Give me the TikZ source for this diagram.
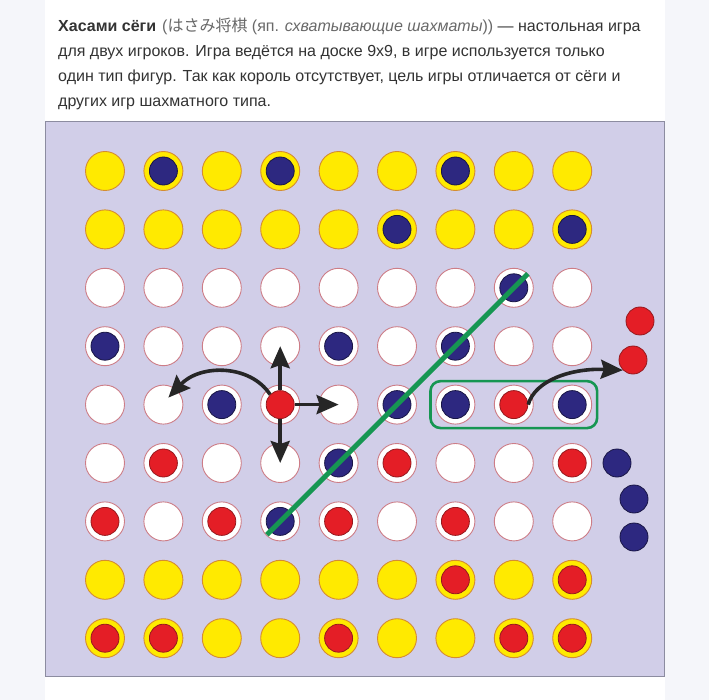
\documentclass[tikz,border=0pt]{standalone}
\usepackage{fontspec}
\setmainfont{Liberation Sans}
\newfontfamily\jpfont{Noto Sans CJK JP}
\usetikzlibrary{arrows.meta,calc,fit}
\definecolor{pagebg}{RGB}{245,246,250}
\definecolor{board}{RGB}{209,206,232}
\definecolor{boardline}{RGB}{140,140,160}
\definecolor{yel}{RGB}{255,234,0}
\definecolor{yelline}{RGB}{212,140,50}
\definecolor{ringline}{RGB}{205,125,135}
\definecolor{navy}{RGB}{45,40,128}
\definecolor{navyline}{RGB}{25,22,70}
\definecolor{redp}{RGB}{228,30,38}
\definecolor{redline}{RGB}{150,25,30}
\definecolor{grn}{RGB}{22,150,82}
\definecolor{txt}{RGB}{51,51,51}
\definecolor{txtgray}{RGB}{105,105,105}

\begin{document}
\begin{tikzpicture}[x=1pt,y=-1pt,
  txtline/.style={anchor=base west,inner sep=0pt,text=txt,font=\fontsize{16}{20}\selectfont},
  cellY/.style={circle,draw=yelline,fill=yel,line width=0.9pt,minimum size=39pt,inner sep=0pt},
  cellW/.style={circle,draw=ringline,fill=white,line width=0.9pt,minimum size=39pt,inner sep=0pt},
  pieceb/.style={circle,draw=navyline,fill=navy,line width=0.8pt,minimum size=28pt,inner sep=0pt},
  piecer/.style={circle,draw=redline,fill=redp,line width=0.8pt,minimum size=28pt,inner sep=0pt},
  hop/.style={draw=black!85,line width=3.6pt,-{Stealth[length=22pt,width=19pt,inset=3pt]}}]
\useasboundingbox (0,0) rectangle (709,700);
\fill[pagebg] (0,0) rectangle (709,700);
\fill[white] (45,0) rectangle (665,700);

\node[txtline] (txt-1) at (58,32) {\textbf{Хасами сёги}\hspace{6pt}{\color{txtgray}({\jpfont はさみ将棋} (яп. \textit{схватывающие шахматы}))} — настольная игра};
\node[txtline] (txt-2) at (58,57) {для двух игроков. Игра ведётся на доске 9x9, в игре используется только};
\node[txtline] (txt-3) at (58,82) {один тип фигур. Так как король отсутствует, цель игры отличается от сёги и};
\node[txtline] (txt-4) at (58,107) {других игр шахматного типа.};

\draw[boardline,fill=board,line width=0.8pt] (45,121) rectangle (664,676);

\foreach \r/\k in {1/Y,2/Y,3/W,4/W,5/W,6/W,7/W,8/Y,9/Y}
  \foreach \c in {1,...,9}
    \node[cell\k] (c-\r-\c) at ({105+(\c-1)*58.4},{171+(\r-1)*58.4}) {};

\foreach \r/\c/\k in {1/2/b,1/4/b,1/7/b,2/6/b,2/9/b,3/8/b,4/1/b,4/5/b,4/7/b,
    5/3/b,5/4/r,5/6/b,5/7/b,5/8/r,5/9/b,6/2/r,6/5/b,6/6/r,6/9/r,
    7/1/r,7/3/r,7/4/b,7/5/r,7/7/r,8/7/r,8/9/r,9/1/r,9/2/r,9/5/r,9/8/r,9/9/r}
  \node[piece\k] (p-\r-\c) at (c-\r-\c) {};

% captured pieces
\node[piecer] (out-r1) at (640,321) {};
\node[piecer] (out-r2) at (633,360) {};
\node[pieceb] (out-b1) at (617,463) {};
\node[pieceb] (out-b2) at (634,499) {};
\node[pieceb] (out-b3) at (634,537) {};

\draw[grn,line width=5pt] ($(c-7-4)!-0.057!(c-3-8)$) -- ($(c-3-8)!-0.06!(c-7-4)$);
\node[draw=grn,line width=2.6pt,rounded corners=10pt,inner xsep=5pt,inner ysep=3.5pt,fit=(c-5-7)(c-5-9)] (grp) {};

\draw[hop] (p-5-4.north) -- (c-4-4.center);
\draw[hop] (p-5-4.south) -- (c-6-4.center);
\draw[hop] (p-5-4.east) -- (c-5-5.center);
\draw[hop] (p-5-4.north west) .. controls (250,364) and (200,364) .. ([shift={(5,-7)}]c-5-2.center);
\draw[hop] (p-5-8.east) .. controls (535,380) and (572,368) .. (out-r2.south west);
\end{tikzpicture}
\end{document}
